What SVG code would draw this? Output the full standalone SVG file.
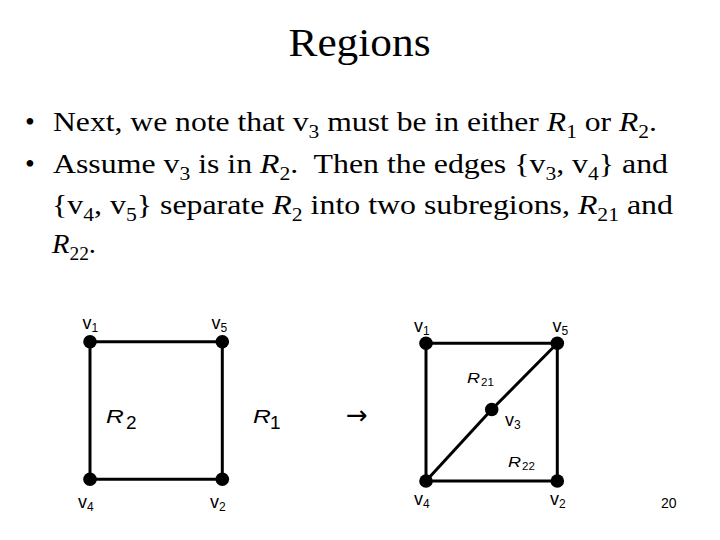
<svg xmlns="http://www.w3.org/2000/svg" width="720" height="540" viewBox="0 0 720 540">
<style>
.title{font-family:"Liberation Serif","Times New Roman",serif;font-size:41px;fill:#000}
.body{font-family:"Liberation Serif","Times New Roman",serif;font-size:28px;fill:#000}
.sub{font-size:19px}
.it{font-style:italic}
.lbl{font-family:"Liberation Sans",Arial,sans-serif;font-size:18px;fill:#000}
.lsub{font-size:12px}
.reg{font-family:"Liberation Sans",Arial,sans-serif;font-size:19px;fill:#000}
.reg2{font-family:"Liberation Sans",Arial,sans-serif;font-size:15px;fill:#000}
.reg2s{font-family:"Liberation Sans",Arial,sans-serif;font-size:11.5px;fill:#000}
.edge{stroke:#000;stroke-width:3;fill:none}
.node{fill:#000}
</style>
<rect width="720" height="540" fill="#fff"/>
<text class="title" x="359.5" y="56" text-anchor="middle" textLength="142" lengthAdjust="spacingAndGlyphs">Regions</text>
<g id="text-body">
<text class="body" x="25" y="131">•</text>
<text class="body" x="53" y="131" textLength="604" lengthAdjust="spacingAndGlyphs">Next, we note that v<tspan class="sub" dy="7">3</tspan><tspan dy="-7"> must be in either </tspan><tspan class="it">R</tspan><tspan class="sub" dy="7">1</tspan><tspan dy="-7"> or </tspan><tspan class="it">R</tspan><tspan class="sub" dy="7">2</tspan><tspan dy="-7">.</tspan></text>
<text class="body" x="25" y="173">•</text>
<text class="body" x="53" y="173" textLength="615" lengthAdjust="spacingAndGlyphs" xml:space="preserve">Assume v<tspan class="sub" dy="7">3</tspan><tspan dy="-7"> is in </tspan><tspan class="it">R</tspan><tspan class="sub" dy="7">2</tspan><tspan dy="-7">.  Then the edges {v</tspan><tspan class="sub" dy="7">3</tspan><tspan dy="-7">, v</tspan><tspan class="sub" dy="7">4</tspan><tspan dy="-7">} and</tspan></text>
<text class="body" x="52" y="214" textLength="621" lengthAdjust="spacingAndGlyphs">{v<tspan class="sub" dy="7">4</tspan><tspan dy="-7">, v</tspan><tspan class="sub" dy="7">5</tspan><tspan dy="-7">} separate </tspan><tspan class="it">R</tspan><tspan class="sub" dy="7">2</tspan><tspan dy="-7"> into two subregions, </tspan><tspan class="it">R</tspan><tspan class="sub" dy="7">21</tspan><tspan dy="-7"> and</tspan></text>
<text class="body" x="52" y="253" textLength="44" lengthAdjust="spacingAndGlyphs"><tspan class="it">R</tspan><tspan class="sub" dy="7">22</tspan><tspan dy="-7">.</tspan></text>
</g>
<g id="connectors">
<line class="edge" x1="90" y1="341.7" x2="222.3" y2="341.7"/>
<line class="edge" x1="90" y1="341.7" x2="90" y2="479.3"/>
<line class="edge" x1="90" y1="479.3" x2="222.3" y2="479.3"/>
<line class="edge" x1="222.3" y1="341.7" x2="222.3" y2="479.3"/>
<line class="edge" x1="426" y1="343.3" x2="557.3" y2="343.3"/>
<line class="edge" x1="426" y1="343.3" x2="426" y2="481"/>
<line class="edge" x1="426" y1="481" x2="557.3" y2="481"/>
<line class="edge" x1="557.3" y1="343.3" x2="557.3" y2="481"/>
<line class="edge" x1="426" y1="481" x2="491.7" y2="409.5"/>
<line class="edge" x1="491.7" y1="409.5" x2="557.3" y2="343.3"/>
</g>
<g id="L-v1"><circle class="node" cx="90" cy="341.7" r="6.8"/><text class="lbl" x="82.5" y="328.5">v<tspan class="lsub" dy="3">1</tspan></text></g>
<g id="L-v5"><circle class="node" cx="222.3" cy="341.7" r="6.8"/><text class="lbl" x="211.5" y="328.5">v<tspan class="lsub" dy="3">5</tspan></text></g>
<g id="L-v4"><circle class="node" cx="90" cy="479.3" r="6.8"/><text class="lbl" x="78" y="508">v<tspan class="lsub" dy="3">4</tspan></text></g>
<g id="L-v2"><circle class="node" cx="222.3" cy="479.3" r="6.8"/><text class="lbl" x="210" y="508">v<tspan class="lsub" dy="3">2</tspan></text></g>
<g id="L-R2"><text class="reg it" transform="translate(106,423) scale(1.3,1)">R</text><text class="reg" x="126" y="429">2</text></g>
<g id="L-R1"><text class="reg it" transform="translate(253,423) scale(1.3,1)">R</text><text class="reg" x="270" y="429">1</text></g>
<g id="arrow"><text x="346" y="424" font-family="'DejaVu Sans',sans-serif" font-size="26">→</text></g>
<g id="R-v1"><circle class="node" cx="426" cy="343.3" r="6.8"/><text class="lbl" x="414" y="332">v<tspan class="lsub" dy="3">1</tspan></text></g>
<g id="R-v5"><circle class="node" cx="557.3" cy="343.3" r="6.8"/><text class="lbl" x="552.5" y="332">v<tspan class="lsub" dy="3">5</tspan></text></g>
<g id="R-v3"><circle class="node" cx="491.7" cy="409.5" r="6.8"/><text class="lbl" x="505" y="426">v<tspan class="lsub" dy="3">3</tspan></text></g>
<g id="R-v4"><circle class="node" cx="426" cy="481" r="6.8"/><text class="lbl" x="414" y="505">v<tspan class="lsub" dy="3">4</tspan></text></g>
<g id="R-v2"><circle class="node" cx="557.3" cy="481" r="6.8"/><text class="lbl" x="550" y="505">v<tspan class="lsub" dy="3">2</tspan></text></g>
<g id="R-R21"><text class="reg2 it" transform="translate(467,383) scale(1.2,1)">R</text><text class="reg2s" x="481" y="386">21</text></g>
<g id="R-R22"><text class="reg2 it" transform="translate(508,467) scale(1.2,1)">R</text><text class="reg2s" x="522" y="470">22</text></g>
<text x="661" y="508" font-family="'Liberation Sans',Arial,sans-serif" font-size="14">20</text>
</svg>
